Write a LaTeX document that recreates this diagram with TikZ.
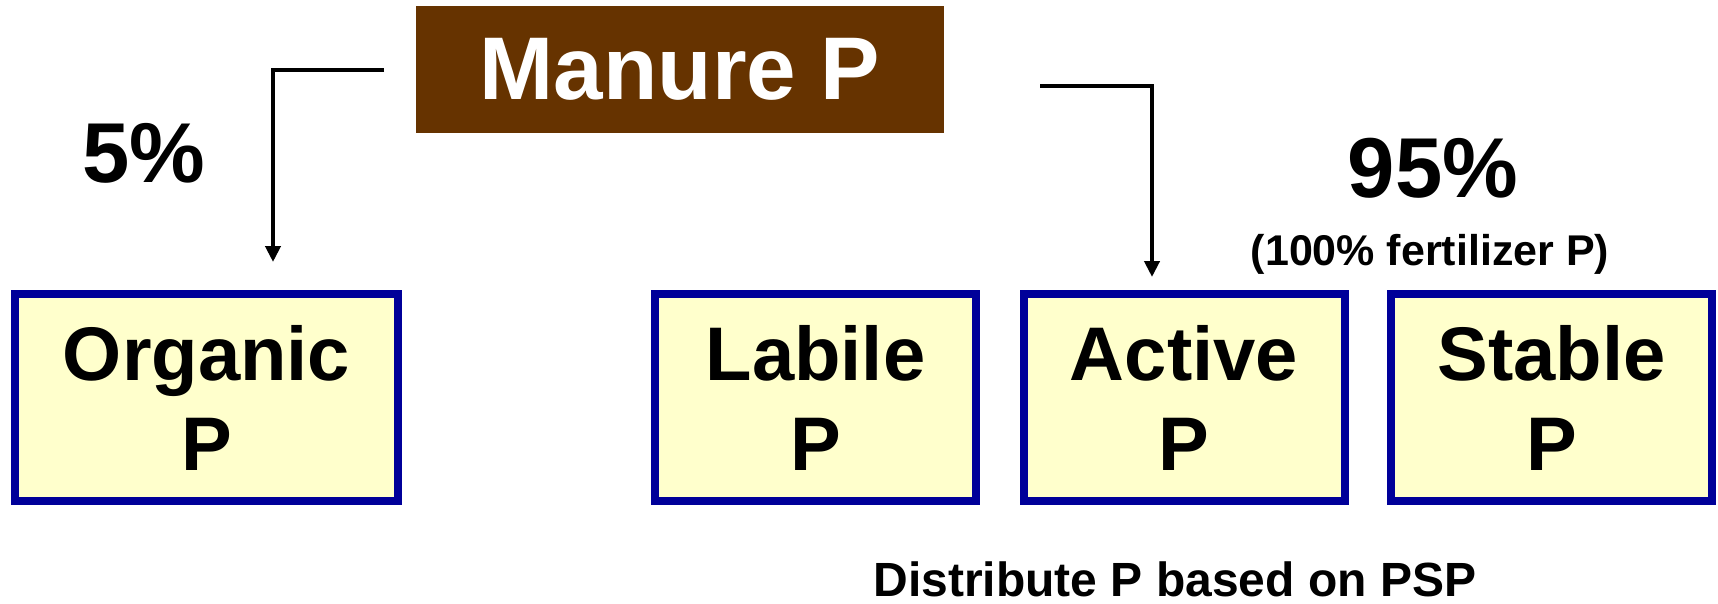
\documentclass[tikz,border=0pt]{standalone}
\usepackage{fontspec}
\setmainfont{Liberation Sans}
\usetikzlibrary{arrows.meta}
\definecolor{manurebrown}{HTML}{663300}
\definecolor{poolblue}{HTML}{000099}
\definecolor{poolfill}{HTML}{FFFFCC}
\begin{document}
\begin{tikzpicture}[x=1pt,y=-1pt,
  pool/.style={draw=poolblue, line width=8pt, fill=poolfill, minimum height=207pt,
    inner sep=0pt, align=center, font=\bfseries\fontsize{76}{90}\selectfont},
  flow/.style={line width=4.5pt, line join=miter, -{Triangle[width=15pt,length=16pt]}},
  big/.style={anchor=base, font=\bfseries\fontsize{85}{90}\selectfont},
  small/.style={anchor=base, font=\bfseries\fontsize{43}{47}\selectfont}]
\useasboundingbox (0,0) rectangle (1718,603);
\node[fill=manurebrown, text=white, minimum width=528pt, minimum height=127pt, inner sep=0pt,
  font=\bfseries\fontsize{89}{95}\selectfont] (manure) at (680,69.5) {Manure P};
\node[pool, minimum width=383pt] (organic) at (206.5,397.5) {Organic\\P};
\node[pool, minimum width=321pt] (labile) at (815.5,397.5) {Labile\\P};
\node[pool, minimum width=321pt] (active) at (1184,397.5) {Active\\P};
\node[pool, minimum width=321pt] (stable) at (1551.5,397.5) {Stable\\P};
\node[big] (five) at (144,182) {5\%};
\node[big] (ninetyfive) at (1433,197) {95\%};
\node[small] (fert) at (1430,265) {(100\% fertilizer P)};
\node[anchor=base, inner sep=0pt, font=\bfseries\fontsize{48}{52}\selectfont] (dist) at (1175,596) {Distribute P based on PSP};
\coordinate (lstart) at (384,70);
\coordinate (lend) at (273,262);
\coordinate (rstart) at (1040,86);
\coordinate (rend) at (1152,277);
\draw[flow] (lstart) -| (lend);
\draw[flow] (rstart) -| (rend);
\end{tikzpicture}
\end{document}
